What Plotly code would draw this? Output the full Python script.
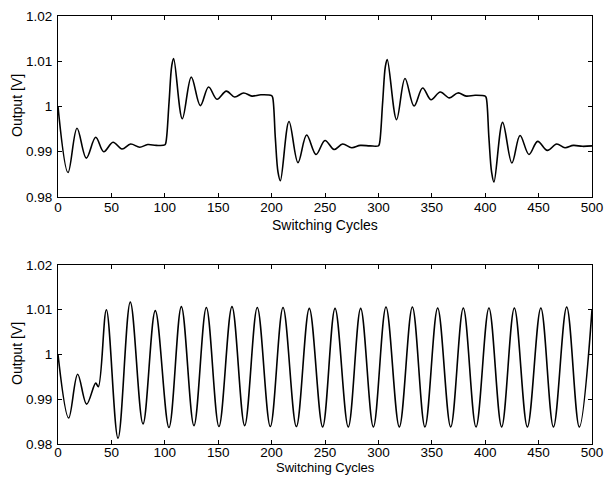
import plotly.graph_objects as go

# ---- data ----
top_cycles = [0, 9.4, 17.8, 26.5, 35.3, 42.8, 51.5, 59.9, 68, 76.5, 84, 92, 100,
              101, 104, 106.5, 108.3, 116.4, 124.8, 133.3, 141, 148.9, 157.6, 165.4,
              173.8, 181.6, 190, 200,
              201, 203.5, 206, 208.2, 216.3, 224.7, 232.8, 241.6, 250, 258.5, 266.5,
              275, 283, 292, 300,
              301, 304, 306.5, 308.3, 317, 324.9, 333.4, 341.4, 349.2, 357.9, 366.5,
              374.4, 382.2, 390.5, 400,
              401, 403.5, 406, 408.2, 416.3, 425, 432.6, 441, 449.1, 458.2, 466.9,
              474.7, 482.5, 491, 500]
top_output = [1.0000, 0.9854, 0.9952, 0.9886, 0.9932, 0.9900, 0.9921, 0.9906, 0.9917, 0.9910, 0.9916, 0.9914, 0.9915,
              0.9920, 1.0010, 1.0090, 1.0106, 0.9973, 1.0065, 1.0002, 1.0043, 1.0016, 1.0034, 1.0021,
              1.0030, 1.0023, 1.0026, 1.0024,
              1.0020, 0.9930, 0.9855, 0.9836, 0.9967, 0.9876, 0.9937, 0.9894, 0.9925, 0.9905, 0.9917,
              0.9909, 0.9914, 0.9913, 0.9913,
              0.9918, 1.0010, 1.0088, 1.0104, 0.9971, 1.0062, 1.0001, 1.0041, 1.0015, 1.0032, 1.0019,
              1.0030, 1.0023, 1.0025, 1.0023,
              1.0019, 0.9930, 0.9855, 0.9833, 0.9965, 0.9875, 0.9936, 0.9894, 0.9923, 0.9903, 0.9917,
              0.9909, 0.9914, 0.9912, 0.9913]

bottom_cycles = [0, 10, 18.4, 26.8, 35.3, 37.8, 45.3, 56.2, 67.7, 79.6, 91.1, 103.9, 115.5,
                 127.3, 138.9, 150.7, 162.9, 174.8, 186.6, 198.8, 210.7, 223.2, 235.3,
                 247.8, 259.4, 271.8, 283.4, 295.3, 307.1, 319.6, 331.8, 343.6, 355.5,
                 367.7, 379.5, 391.4, 403.5, 415.4, 427.3, 439.5, 452.1, 463.9, 476.3,
                 488.1, 500]
bottom_output = [1.0000, 0.9858, 0.9956, 0.9889, 0.9936, 0.9928, 1.0100, 0.9813, 1.0117, 0.9845, 1.0098, 0.9837, 1.0107,
                 0.9841, 1.0105, 0.9839, 1.0107, 0.9841, 1.0105, 0.9839, 1.0105, 0.9839, 1.0103,
                 0.9838, 1.0103, 0.9838, 1.0103, 0.9838, 1.0106, 0.9838, 1.0106, 0.9838, 1.0104,
                 0.9838, 1.0104, 0.9838, 1.0104, 0.9838, 1.0104, 0.9838, 1.0104, 0.9838, 1.0106,
                 0.9838, 1.0100]

x_ticks = [0, 50, 100, 150, 200, 250, 300, 350, 400, 450, 500]
y_ticks = [0.98, 0.99, 1.0, 1.01, 1.02]
y_tick_text = ["0.98", "0.99", "1", "1.01", "1.02"]
x_title = "Switching Cycles"
y_title = "Output [V]"

FONT = dict(family="Liberation Sans, Arial, sans-serif", size=13.5, color="black")
TFONT = dict(family="Liberation Sans, Arial, sans-serif", size=14, color="black")
LINE = dict(color="black", width=1.6, shape="spline", smoothing=1.0)

fig = go.Figure()
fig.add_trace(go.Scatter(x=top_cycles, y=top_output, mode="lines", line=LINE,
                         xaxis="x", yaxis="y", showlegend=False, hoverinfo="skip"))
fig.add_trace(go.Scatter(x=bottom_cycles, y=bottom_output, mode="lines", line=LINE,
                         xaxis="x2", yaxis="y2", showlegend=False, hoverinfo="skip"))

def xax(anchor, standoff):
    return dict(range=[0, 500], tickvals=x_ticks, ticks="inside", ticklen=4,
                tickcolor="black", showline=True, linecolor="black", linewidth=1,
                mirror="ticks", showgrid=False, zeroline=False, tickfont=FONT,
                ticklabelstandoff=standoff, anchor=anchor, domain=[0, 1])

def yax(anchor, domain):
    return dict(range=[0.98, 1.02], tickvals=y_ticks, ticktext=y_tick_text,
                ticks="inside", ticklen=4, tickcolor="black", showline=True,
                linecolor="black", linewidth=1, mirror="ticks", showgrid=False,
                zeroline=False, tickfont=FONT, ticklabelstandoff=2,
                anchor=anchor, domain=domain)

PLOT_TOP, PLOT_BOTTOM, PLOT_LEFT, PLOT_RIGHT = 16, 444, 58, 592
H = PLOT_BOTTOM - PLOT_TOP
W = PLOT_RIGHT - PLOT_LEFT

def py(p):
    return (PLOT_BOTTOM - p) / H

def px(p):
    return (p - PLOT_LEFT) / W

annotations = [
    dict(text=x_title, x=0.5, y=py(225), xref="paper", yref="paper",
         xanchor="center", yanchor="middle", showarrow=False, font=TFONT),
    dict(text=x_title, x=0.5, y=py(477), xref="paper", yref="paper",
         xanchor="center", yanchor="bottom", showarrow=False,
         font=dict(TFONT, size=13)),
    dict(text=y_title, x=px(17), y=py(106), xref="paper", yref="paper",
         xanchor="center", yanchor="middle", textangle=-90, showarrow=False, font=TFONT),
    dict(text=y_title, x=px(17), y=py(354), xref="paper", yref="paper",
         xanchor="center", yanchor="middle", textangle=-90, showarrow=False, font=TFONT),
]

fig.update_layout(
    width=606, height=477,
    margin=dict(l=PLOT_LEFT, r=606 - PLOT_RIGHT, t=PLOT_TOP,
                b=477 - PLOT_BOTTOM, pad=0, autoexpand=False),
    paper_bgcolor="white", plot_bgcolor="white",
    xaxis=xax("y", -2), yaxis=yax("x", [py(197), 1.0]),
    xaxis2=xax("y2", -4), yaxis2=yax("x2", [0.0, py(265)]),
    annotations=annotations,
)

fig.write_html("out.html", config=dict(displayModeBar=False, staticPlot=True),
               post_script="document.body.style.margin='0';document.body.style.overflow='hidden';")
